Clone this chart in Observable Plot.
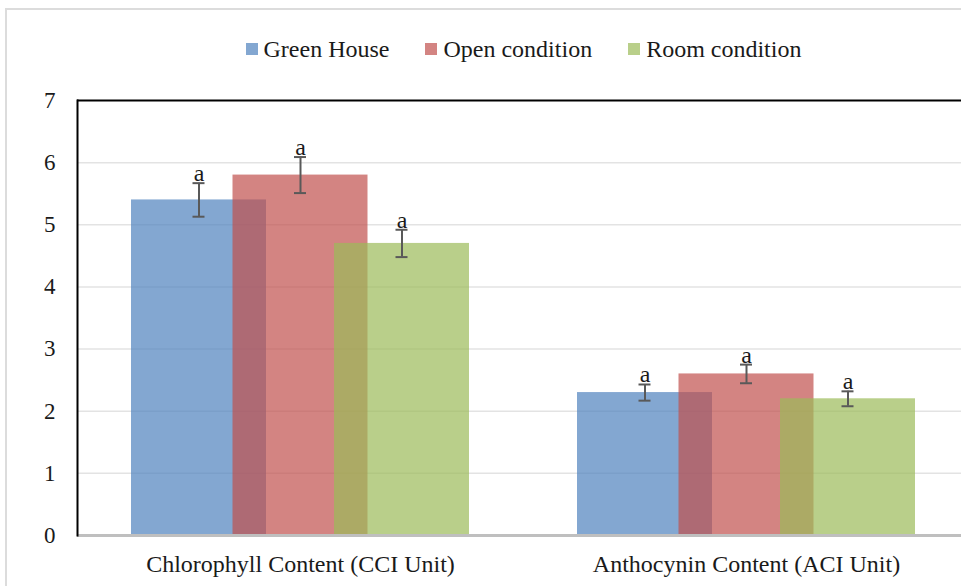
<!DOCTYPE html>
<html>
<head>
<meta charset="utf-8">
<script src="https://cdn.jsdelivr.net/npm/d3@7"></script>
<script src="https://cdn.jsdelivr.net/npm/@observablehq/plot@0.6"></script>
<style>
  html, body { margin: 0; padding: 0; background: #fff; overflow: hidden; width: 961px; height: 586px; }
  #wrap { position: relative; width: 961px; height: 586px; overflow: hidden; font-family: "Liberation Serif", "Times New Roman", serif; }
  #frame { position: absolute; left: 5px; top: 8px; width: 1000px; height: 1000px; border-left: 2px solid #dcdcdc; border-top: 2px solid #dcdcdc; }
  #legend { position: absolute; left: 78px; top: 36px; width: 891px; display: flex; justify-content: center; gap: 36px; font-size: 24px; color: #1a1a1a; }
  #legend .item { display: flex; align-items: center; line-height: 26px; }
  #legend .sw { width: 12px; height: 12px; margin-right: 6px; }
  #chart { position: absolute; left: 0; top: 0; }
  #chart svg { max-width: none !important; }
</style>
</head>
<body>
<div id="wrap">
  <div id="frame"></div>
  <div id="chart"></div>
  <div id="legend"></div>
</div>
<script>
// ---- data ----
const categories = ["Chlorophyll Content (CCI Unit)", "Anthocynin Content (ACI Unit)"];
const seriesNames = ["Green House", "Open condition", "Room condition"];
const seriesColors = ["#4F81BD", "#C0504D", "#9BBB59"];
const greenHouse = [5.40, 2.30];
const openCondition = [5.80, 2.60];
const roomCondition = [4.70, 2.20];
const greenHouseErr = [0.27, 0.13];
const openConditionErr = [0.29, 0.15];
const roomConditionErr = [0.22, 0.12];
const letters = [["a", "a", "a"], ["a", "a", "a"]];
const yTicks = [0, 1, 2, 3, 4, 5, 6, 7];

const values = [greenHouse, openCondition, roomCondition];
const errs = [greenHouseErr, openConditionErr, roomConditionErr];

const rows = [];
categories.forEach((c, ci) => {
  seriesNames.forEach((s, si) => {
    rows.push({cat: c, series: s, si, value: values[si][ci], err: errs[si][ci], letter: letters[ci][si]});
  });
});

// ---- layout ----
const W = 969, H = 586;
const mL = 77, mR = 0, mT = 100, mB = 51;
const band = (W - mL - mR) / categories.length;
const barW = 135, step = 101.5;
const offsets = [-step, 0, step];
const capHalf = 6;

const marks = [];
marks.push(Plot.gridY(yTicks.filter(t => t > 0 && t < 7), {stroke: "#e3e3e3", strokeOpacity: 1, strokeWidth: 1.5}));
seriesNames.forEach((s, si) => {
  const d = rows.filter(r => r.si === si);
  const left = band / 2 + offsets[si] - barW / 2;
  const right = band - left - barW;
  marks.push(Plot.barY(d, {x: "cat", y: "value", fill: seriesColors[si], fillOpacity: 0.7, insetLeft: left, insetRight: right}));
});
seriesNames.forEach((s, si) => {
  const d = rows.filter(r => r.si === si);
  const dx = offsets[si];
  marks.push(Plot.ruleX(d, {x: "cat", y1: r => r.value - r.err, y2: r => r.value + r.err, dx, stroke: "#595959", strokeWidth: 2}));
  marks.push(Plot.tickY(d, {x: "cat", y: r => r.value - r.err, dx, insetLeft: band / 2 - capHalf, insetRight: band / 2 - capHalf, stroke: "#595959", strokeWidth: 2}));
  marks.push(Plot.tickY(d, {x: "cat", y: r => r.value + r.err, dx, insetLeft: band / 2 - capHalf, insetRight: band / 2 - capHalf, stroke: "#595959", strokeWidth: 2}));
  marks.push(Plot.text(d, {x: "cat", y: r => r.value + r.err, text: "letter", dx, dy: -2, lineAnchor: "bottom", fontSize: 24, fill: "#1a1a1a"}));
});
marks.push(Plot.ruleY([0], {stroke: "#bfbfbf", strokeWidth: 3}));
marks.push(Plot.ruleY([7], {stroke: "#000", strokeWidth: 2}));
marks.push(Plot.frame({anchor: "left", stroke: "#000", strokeWidth: 2}));
marks.push(Plot.axisY({ticks: yTicks, tickSize: 0, tickPadding: 22, fontSize: 23, tickFormat: d => String(d), label: null}));
marks.push(Plot.axisX({tickSize: 0, tickPadding: 19, fontSize: 24, label: null}));

const chart = Plot.plot({
  width: W, height: H,
  marginLeft: mL, marginRight: mR, marginTop: mT, marginBottom: mB,
  style: {fontFamily: "'Liberation Serif', 'Times New Roman', serif", color: "#1a1a1a", background: "transparent", overflow: "visible"},
  x: {domain: categories, padding: 0, align: 0.5},
  y: {domain: [0, 7]},
  marks
});
document.getElementById("chart").appendChild(chart);

const legend = document.getElementById("legend");
seriesNames.forEach((s, i) => {
  const it = document.createElement("div");
  it.className = "item";
  const sw = document.createElement("div");
  sw.className = "sw";
  sw.style.background = seriesColors[i];
  sw.style.opacity = 0.7;
  const t = document.createElement("span");
  t.textContent = s;
  it.appendChild(sw); it.appendChild(t);
  legend.appendChild(it);
});
</script>
</body>
</html>
